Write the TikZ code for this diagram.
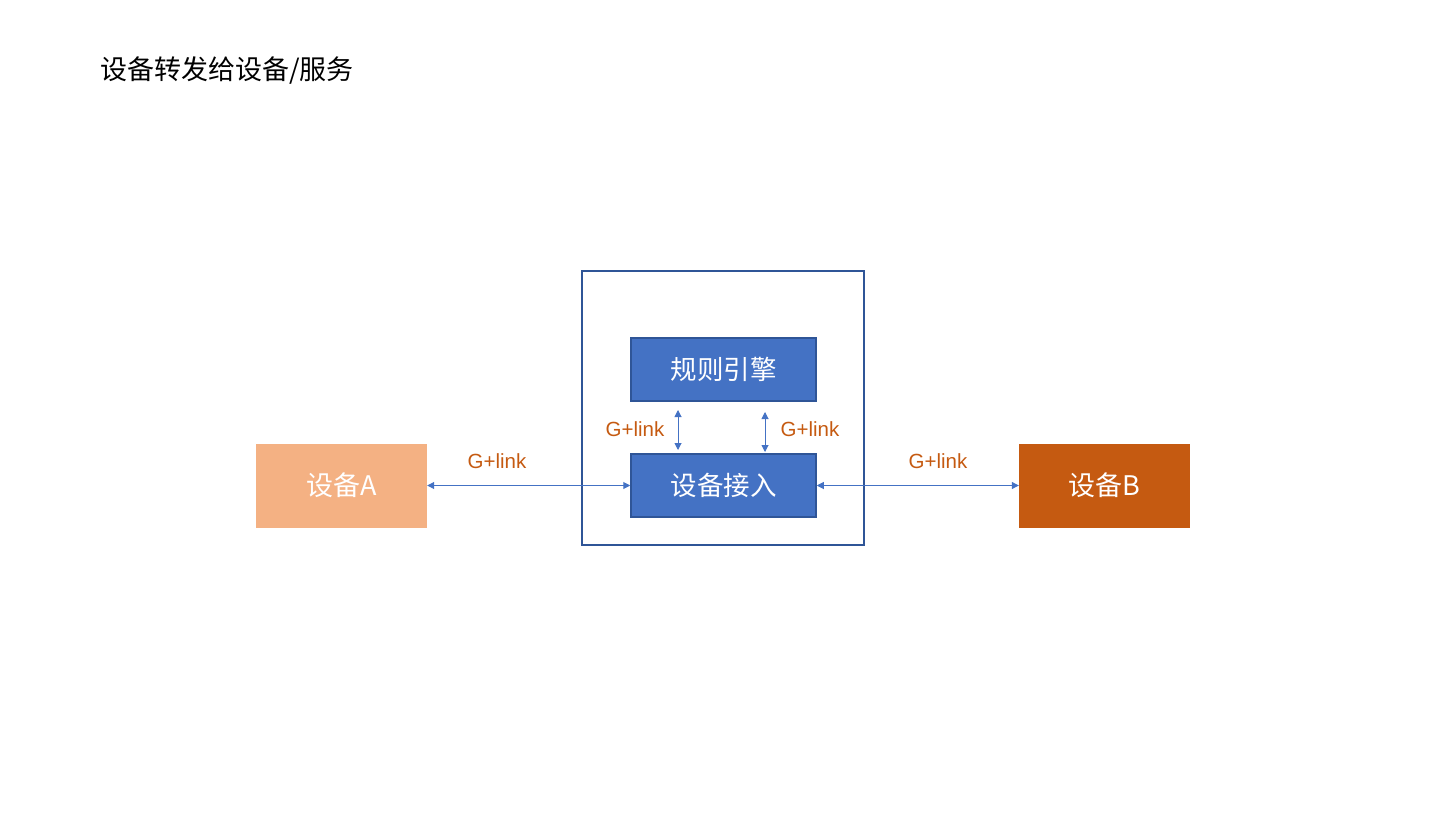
\documentclass[tikz,border=0pt]{standalone}
\usepackage{fontspec}
\setmainfont{Noto Sans CJK SC}
\newfontfamily\latinfont{Liberation Sans}
\usetikzlibrary{arrows.meta}
\definecolor{boxblue}{HTML}{4472C4}
\definecolor{darkblue}{HTML}{2F5597}
\definecolor{lightorange}{HTML}{F4B183}
\definecolor{darkorange}{HTML}{C55A11}
\tikzset{
  bluebox/.style={draw=darkblue, line width=1.5pt, fill=boxblue, minimum width=185pt, minimum height=63pt, inner sep=0pt, text=white, font=\fontsize{26.5pt}{30pt}\selectfont},
  devbox/.style={minimum width=171pt, minimum height=84pt, inner sep=0pt, text=white, font=\fontsize{27pt}{30pt}\selectfont},
  linklabel/.style={text=darkorange, font=\latinfont\fontsize{20.5pt}{23pt}\selectfont, inner sep=0pt},
  link/.style={draw=boxblue, line width=1pt, {Triangle[length=7pt,width=7pt]}-{Triangle[length=7pt,width=7pt]}}
}
\begin{document}
\begin{tikzpicture}[x=1pt,y=-1pt]
\useasboundingbox (0,0) rectangle (1450,818);
\node[anchor=base west, font=\fontsize{27pt}{30pt}\selectfont, inner sep=0pt] (title) at (100,80) {设备转发给设备/服务};
\node[draw=darkblue, line width=2.5pt, minimum width=282pt, minimum height=274pt, inner sep=0pt] (outer) at (723,408) {};
\node[bluebox] (rule) at (723.5,369.5) {规则引擎};
\node[bluebox] (acc) at (723.5,485.5) {设备接入};
\node[devbox, fill=lightorange] (A) at (341.5,485.5) {设备A};
\node[devbox, fill=darkorange] (B) at (1104.5,485.5) {设备B};
\draw[link] (A.east) -- (acc.west);
\draw[link] (acc.east) -- (B.west);
\coordinate (v1t) at (678,410);
\coordinate (v1b) at (678,450);
\coordinate (v2t) at (765,412);
\coordinate (v2b) at (765,452);
\draw[link] (v1t) -- (v1b);
\draw[link] (v2t) -- (v2b);
\node[linklabel] (l1) at (497,461) {G+link};
\node[linklabel] (l2) at (938,461) {G+link};
\node[linklabel] (l3) at (635,429) {G+link};
\node[linklabel] (l4) at (810,429) {G+link};
\end{tikzpicture}
\end{document}
